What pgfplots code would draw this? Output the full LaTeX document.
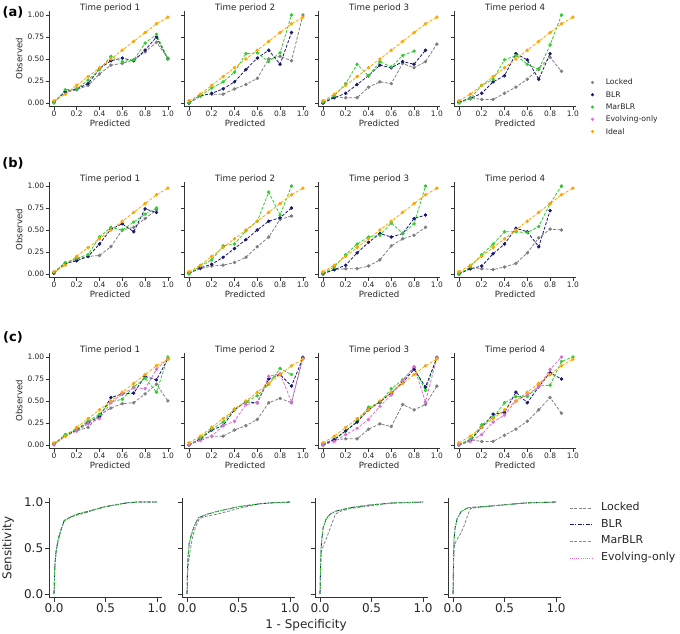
\documentclass[border=0pt]{standalone}
\usepackage{fontspec}
\setmainfont{DejaVu Sans}
\usepackage{pgfplots}
\usepackage{pgfplotstable}
\pgfplotsset{compat=1.18}

\definecolor{lockedc}{RGB}{128,128,128}
\definecolor{blrc}{RGB}{25,25,112}
\definecolor{marc}{RGB}{50,205,50}
\definecolor{evoc}{RGB}{218,112,214}
\definecolor{idealc}{RGB}{255,165,0}

\pgfplotstableread{
x y
0 0.025
0.1 0.1
0.2 0.2
0.3 0.3
0.4 0.4
0.5 0.5
0.6 0.6
0.7 0.7
0.8 0.8
0.9 0.9
1.0 0.975
}\ideal

\pgfplotsset{
  base/.style={scale only axis, anchor=south west, clip=false,
    axis x line*=bottom, axis y line*=left,
    axis line style={black!80, line width=0.6bp, -},
    tick align=outside, major tick length=3bp,
    major tick style={black!80, line width=0.6bp},
    tick label style={text=black!85},
    yticklabels={}},
  calib/.style={base, width=122.4bp, height=95.9bp,
    xmin=-0.044, xmax=1.03, ymin=-0.04, ymax=1.05,
    xtick={0,0.2,0.4,0.6,0.8,1}, xticklabels={0,0.2,0.4,0.6,0.8,1.0},
    ytick={0,0.25,0.5,0.75,1},
    xlabel={Predicted},
    tick label style={font=\fontsize{7.5bp}{9bp}\selectfont, inner sep=1.5bp},
    label style={font=\fontsize{8.6bp}{10bp}\selectfont, text=black!85},
    xlabel style={yshift=2bp},
    title style={font=\fontsize{8.7bp}{10bp}\selectfont, text=black!85, inner sep=0pt, yshift=-8bp}},
  roc/.style={base, width=113.3bp, height=99.8bp,
    xmin=-0.05, xmax=1.05, ymin=-0.04, ymax=1.045,
    xtick={0,0.5,1}, xticklabels={0.0,0.5,1.0}, ytick={0,0.5,1},
    major tick length=4bp,
    tick label style={font=\fontsize{12bp}{14bp}\selectfont, inner sep=1.5bp}},
  locked/.style={color=lockedc, line width=0.8bp, dash pattern=on 3bp off 1.6bp, mark=*, mark size=1.3bp, mark options={solid}},
  blr/.style={color=blrc, line width=0.8bp, dash pattern=on 3bp off 1.6bp, mark=*, mark size=1.3bp, mark options={solid}},
  mar/.style={color=marc, line width=0.8bp, dash pattern=on 3bp off 1.6bp, mark=*, mark size=1.3bp, mark options={solid}},
  evo/.style={color=evoc, line width=0.8bp, dash pattern=on 3bp off 1.6bp, mark=*, mark size=1.3bp, mark options={solid}},
  ideal/.style={color=idealc, line width=0.8bp, dash pattern=on 3bp off 1.6bp, mark=*, mark size=1.3bp, mark options={solid}},
  rlocked/.style={color=lockedc, line width=0.8bp, dash pattern=on 3bp off 1.6bp},
  rblr/.style={color=blrc, line width=0.8bp, dash pattern=on 4bp off 1.5bp on 1bp off 1.5bp},
  rmar/.style={color=marc, line width=0.8bp, dash pattern=on 3bp off 1.6bp},
  revo/.style={color=evoc, line width=0.9bp, dash pattern=on 1bp off 1.2bp},
}

\begin{document}
\begin{tikzpicture}
\useasboundingbox (0,0) rectangle (680bp,-634bp);

% ---------- row (a)
\node[font=\bfseries\fontsize{13bp}{15bp}\selectfont] at (13bp,-12bp) {(a)};
\begin{axis}[calib, at={(48.9bp,-106.5bp)}, title={Time period 1}, ylabel={Observed},
  yticklabels={0.00,0.25,0.50,0.75,1.00}]
\addplot[locked] coordinates {(0,0.01)(0.1,0.12)(0.2,0.15)(0.3,0.20)(0.4,0.33)(0.5,0.43)(0.6,0.45)(0.7,0.49)(0.8,0.58)(0.9,0.69)(1.0,0.51)};
\addplot[blr] coordinates {(0,0.01)(0.1,0.13)(0.2,0.16)(0.3,0.22)(0.4,0.39)(0.5,0.48)(0.6,0.51)(0.7,0.48)(0.8,0.60)(0.9,0.75)(1.0,0.50)};
\addplot[mar] coordinates {(0,0.0)(0.1,0.15)(0.2,0.16)(0.3,0.26)(0.4,0.38)(0.5,0.53)(0.6,0.47)(0.7,0.49)(0.8,0.68)(0.9,0.78)(1.0,0.50)};
\addplot[ideal] table {\ideal};
\end{axis}
\begin{axis}[calib, at={(183.9bp,-106.5bp)}, title={Time period 2}]
\addplot[locked] coordinates {(0,0.0)(0.1,0.09)(0.2,0.10)(0.3,0.10)(0.4,0.16)(0.5,0.21)(0.6,0.28)(0.7,0.50)(0.8,0.53)(0.9,0.48)(1.0,1.0)};
\addplot[blr] coordinates {(0,0.0)(0.1,0.08)(0.2,0.11)(0.3,0.16)(0.4,0.24)(0.5,0.38)(0.6,0.51)(0.7,0.60)(0.8,0.44)(0.9,0.80)};
\addplot[mar] coordinates {(0,0.0)(0.1,0.08)(0.2,0.17)(0.3,0.24)(0.4,0.35)(0.5,0.56)(0.6,0.57)(0.7,0.47)(0.8,0.57)(0.9,1.0)};
\addplot[ideal] table {\ideal};
\end{axis}
\begin{axis}[calib, at={(317.9bp,-106.5bp)}, title={Time period 3}]
\addplot[locked] coordinates {(0,0.0)(0.1,0.07)(0.2,0.06)(0.3,0.06)(0.4,0.18)(0.5,0.24)(0.6,0.22)(0.7,0.45)(0.8,0.40)(0.9,0.47)(1.0,0.67)};
\addplot[blr] coordinates {(0,0.0)(0.1,0.06)(0.2,0.11)(0.3,0.21)(0.4,0.31)(0.5,0.43)(0.6,0.40)(0.7,0.47)(0.8,0.44)(0.9,0.60)};
\addplot[mar] coordinates {(0,0.01)(0.1,0.08)(0.2,0.22)(0.3,0.44)(0.4,0.31)(0.5,0.47)(0.6,0.41)(0.7,0.54)(0.8,0.59)};
\addplot[ideal] table {\ideal};
\end{axis}
\begin{axis}[calib, at={(453.9bp,-106.5bp)}, title={Time period 4},
  legend style={at={(1.12,0.315)}, anchor=north west, draw=none, fill=none,
    font=\fontsize{7.7bp}{9bp}\selectfont, text=black!85, row sep=0.3bp, column sep=11bp, inner sep=0pt,
    nodes={inner sep=1bp, text height=0.75em, text depth=0.25em}},
  legend cell align=left,
  legend image code/.code={\draw[#1] plot coordinates {(4bp,0bp)};}]
\addlegendimage{only marks, mark=*, mark size=1.3bp, color=lockedc}\addlegendentry{Locked}
\addlegendimage{only marks, mark=*, mark size=1.3bp, color=blrc}\addlegendentry{BLR}
\addlegendimage{only marks, mark=*, mark size=1.3bp, color=marc}\addlegendentry{MarBLR}
\addlegendimage{only marks, mark=*, mark size=1.3bp, color=evoc}\addlegendentry{Evolving-only}
\addlegendimage{only marks, mark=*, mark size=1.3bp, color=idealc}\addlegendentry{Ideal}
\addplot[locked, forget plot] coordinates {(0,0.01)(0.1,0.06)(0.2,0.04)(0.3,0.04)(0.4,0.11)(0.5,0.18)(0.6,0.27)(0.7,0.39)(0.8,0.52)(0.9,0.36)};
\addplot[blr, forget plot] coordinates {(0,0.01)(0.1,0.05)(0.2,0.11)(0.3,0.24)(0.4,0.31)(0.5,0.56)(0.6,0.49)(0.7,0.27)(0.8,0.56)};
\addplot[mar, forget plot] coordinates {(0,0.0)(0.1,0.05)(0.2,0.20)(0.3,0.27)(0.4,0.49)(0.5,0.54)(0.6,0.44)(0.7,0.38)(0.8,0.66)(0.9,1.0)};
\addplot[ideal, forget plot] table {\ideal};
\end{axis}

% ---------- row (b)
\node[font=\bfseries\fontsize{13bp}{15bp}\selectfont] at (13bp,-163bp) {(b)};
\begin{axis}[calib, at={(48.9bp,-277.5bp)}, title={Time period 1}, ylabel={Observed},
  yticklabels={0.00,0.25,0.50,0.75,1.00}]
\addplot[locked] coordinates {(0,0.01)(0.1,0.12)(0.2,0.17)(0.3,0.20)(0.4,0.21)(0.5,0.31)(0.6,0.50)(0.7,0.53)(0.8,0.63)(0.9,0.73)};
\addplot[blr] coordinates {(0,0.01)(0.1,0.12)(0.2,0.15)(0.3,0.20)(0.4,0.34)(0.5,0.51)(0.6,0.57)(0.7,0.48)(0.8,0.74)(0.9,0.70)};
\addplot[mar] coordinates {(0,0.02)(0.1,0.13)(0.2,0.18)(0.3,0.22)(0.4,0.42)(0.5,0.53)(0.6,0.50)(0.7,0.59)(0.8,0.68)(0.9,0.75)};
\addplot[ideal] table {\ideal};
\end{axis}
\begin{axis}[calib, at={(183.9bp,-277.5bp)}, title={Time period 2}]
\addplot[locked] coordinates {(0,0.01)(0.1,0.06)(0.2,0.09)(0.3,0.10)(0.4,0.13)(0.5,0.19)(0.6,0.31)(0.7,0.42)(0.8,0.62)(0.9,0.66)};
\addplot[blr] coordinates {(0,0.01)(0.1,0.07)(0.2,0.11)(0.3,0.19)(0.4,0.29)(0.5,0.39)(0.6,0.50)(0.7,0.60)(0.8,0.64)(0.9,0.75)};
\addplot[mar] coordinates {(0,0.0)(0.1,0.09)(0.2,0.16)(0.3,0.32)(0.4,0.34)(0.5,0.49)(0.6,0.60)(0.7,0.93)(0.8,0.67)(0.9,1.0)};
\addplot[ideal] table {\ideal};
\end{axis}
\begin{axis}[calib, at={(317.9bp,-277.5bp)}, title={Time period 3}]
\addplot[locked] coordinates {(0,0.01)(0.1,0.05)(0.2,0.06)(0.3,0.06)(0.4,0.09)(0.5,0.16)(0.6,0.32)(0.7,0.40)(0.8,0.44)(0.9,0.53)};
\addplot[blr] coordinates {(0,0.0)(0.1,0.05)(0.2,0.10)(0.3,0.24)(0.4,0.36)(0.5,0.46)(0.6,0.42)(0.7,0.46)(0.8,0.63)(0.9,0.67)};
\addplot[mar] coordinates {(0,0.01)(0.1,0.08)(0.2,0.22)(0.3,0.34)(0.4,0.42)(0.5,0.44)(0.6,0.58)(0.7,0.46)(0.8,0.57)(0.9,1.0)};
\addplot[ideal] table {\ideal};
\end{axis}
\begin{axis}[calib, at={(453.9bp,-277.5bp)}, title={Time period 4}]
\addplot[locked] coordinates {(0,0.01)(0.1,0.06)(0.2,0.06)(0.3,0.05)(0.4,0.08)(0.5,0.12)(0.6,0.24)(0.7,0.41)(0.8,0.51)(0.9,0.50)};
\addplot[blr] coordinates {(0,0.0)(0.1,0.06)(0.2,0.09)(0.3,0.23)(0.4,0.34)(0.5,0.52)(0.6,0.48)(0.7,0.31)(0.8,0.72)};
\addplot[mar] coordinates {(0,0.0)(0.1,0.08)(0.2,0.22)(0.3,0.34)(0.4,0.48)(0.5,0.48)(0.6,0.47)(0.7,0.54)(0.8,0.80)(0.9,1.0)};
\addplot[ideal] table {\ideal};
\end{axis}

% ---------- row (c)
\node[font=\bfseries\fontsize{13bp}{15bp}\selectfont] at (13bp,-337bp) {(c)};
\begin{axis}[calib, at={(48.9bp,-448.5bp)}, title={Time period 1}, ylabel={Observed},
  yticklabels={0.00,0.25,0.50,0.75,1.00}]
\addplot[locked] coordinates {(0,0.01)(0.1,0.11)(0.2,0.16)(0.3,0.20)(0.4,0.34)(0.5,0.42)(0.6,0.47)(0.7,0.48)(0.8,0.58)(0.9,0.69)(1.0,0.50)};
\addplot[blr] coordinates {(0,0.01)(0.1,0.11)(0.2,0.17)(0.3,0.26)(0.4,0.32)(0.5,0.54)(0.6,0.58)(0.7,0.59)(0.8,0.78)(0.9,0.74)(1.0,0.98)};
\addplot[mar] coordinates {(0,0.01)(0.1,0.12)(0.2,0.18)(0.3,0.27)(0.4,0.35)(0.5,0.49)(0.6,0.52)(0.7,0.66)(0.8,0.76)(0.9,0.60)(1.0,1.0)};
\addplot[evo] coordinates {(0,0.0)(0.1,0.10)(0.2,0.16)(0.3,0.24)(0.4,0.30)(0.5,0.48)(0.6,0.58)(0.7,0.65)(0.8,0.64)(0.9,0.86)(1.0,0.98)};
\addplot[ideal] table {\ideal};
\end{axis}
\begin{axis}[calib, at={(183.9bp,-448.5bp)}, title={Time period 2}]
\addplot[locked] coordinates {(0,0.0)(0.1,0.07)(0.2,0.10)(0.3,0.10)(0.4,0.17)(0.5,0.22)(0.6,0.29)(0.7,0.48)(0.8,0.53)(0.9,0.48)(1.0,1.0)};
\addplot[blr] coordinates {(0,0.0)(0.1,0.07)(0.2,0.17)(0.3,0.22)(0.4,0.40)(0.5,0.49)(0.6,0.48)(0.7,0.75)(0.8,0.80)(0.9,0.67)(1.0,0.99)};
\addplot[mar] coordinates {(0,0.0)(0.1,0.08)(0.2,0.18)(0.3,0.26)(0.4,0.41)(0.5,0.49)(0.6,0.56)(0.7,0.69)(0.8,0.87)(0.9,0.80)};
\addplot[evo] coordinates {(0,0.0)(0.1,0.05)(0.2,0.10)(0.3,0.22)(0.4,0.27)(0.5,0.46)(0.6,0.48)(0.7,0.78)(0.8,0.81)(0.9,0.49)(1.0,0.98)};
\addplot[ideal] table {\ideal};
\end{axis}
\begin{axis}[calib, at={(317.9bp,-448.5bp)}, title={Time period 3}]
\addplot[locked] coordinates {(0,0.01)(0.1,0.06)(0.2,0.07)(0.3,0.07)(0.4,0.18)(0.5,0.24)(0.6,0.21)(0.7,0.46)(0.8,0.40)(0.9,0.46)(1.0,0.67)};
\addplot[mar] coordinates {(0,0.01)(0.1,0.07)(0.2,0.16)(0.3,0.27)(0.4,0.43)(0.5,0.48)(0.6,0.64)(0.7,0.74)(0.8,0.88)(0.9,0.62)(1.0,1.0)};
\addplot[blr] coordinates {(0,0.0)(0.1,0.06)(0.2,0.16)(0.3,0.26)(0.4,0.40)(0.5,0.49)(0.6,0.59)(0.7,0.71)(0.8,0.86)(0.9,0.66)(1.0,0.99)};
\addplot[evo] coordinates {(0,0.0)(0.1,0.04)(0.2,0.12)(0.3,0.19)(0.4,0.29)(0.5,0.44)(0.6,0.57)(0.7,0.73)(0.8,0.89)(0.9,0.49)(1.0,0.99)};
\addplot[ideal] table {\ideal};
\end{axis}
\begin{axis}[calib, at={(453.9bp,-448.5bp)}, title={Time period 4}]
\addplot[locked] coordinates {(0,0.01)(0.1,0.06)(0.2,0.04)(0.3,0.04)(0.4,0.11)(0.5,0.18)(0.6,0.27)(0.7,0.40)(0.8,0.54)(0.9,0.36)};
\addplot[blr] coordinates {(0,0.0)(0.1,0.05)(0.2,0.20)(0.3,0.35)(0.4,0.37)(0.5,0.60)(0.6,0.48)(0.7,0.66)(0.8,0.82)(0.9,0.75)};
\addplot[mar] coordinates {(0,0.0)(0.1,0.06)(0.2,0.23)(0.3,0.31)(0.4,0.48)(0.5,0.55)(0.6,0.55)(0.7,0.67)(0.8,0.68)(0.9,0.95)(1.0,1.0)};
\addplot[evo] coordinates {(0,0.0)(0.1,0.04)(0.2,0.12)(0.3,0.26)(0.4,0.34)(0.5,0.50)(0.6,0.57)(0.7,0.66)(0.8,0.86)(0.9,1.0)};
\addplot[ideal] table {\ideal};
\end{axis}

% ---------- ROC row
\begin{axis}[roc, at={(48.9bp,-597.7bp)}, yticklabels={0.0,0.5,1.0}]
\addplot[rlocked] coordinates {(0,0)(0.005,0.2)(0.01,0.33)(0.02,0.45)(0.04,0.58)(0.07,0.70)(0.1,0.80)(0.15,0.83)(0.2,0.85)(0.3,0.88)(0.4,0.92)(0.5,0.95)(0.6,0.97)(0.7,0.99)(0.8,1.0)(1,1)};
\addplot[rblr] coordinates {(0,0)(0.005,0.22)(0.01,0.35)(0.02,0.47)(0.04,0.60)(0.07,0.71)(0.1,0.80)(0.15,0.83)(0.2,0.86)(0.3,0.89)(0.4,0.92)(0.5,0.95)(0.6,0.97)(0.7,0.99)(0.8,1.0)(1,1)};
\addplot[rmar] coordinates {(0,0)(0.005,0.21)(0.01,0.34)(0.02,0.46)(0.04,0.59)(0.07,0.71)(0.1,0.80)(0.15,0.83)(0.2,0.86)(0.3,0.89)(0.4,0.92)(0.5,0.95)(0.6,0.97)(0.7,0.99)(0.8,1.0)(1,1)};
\end{axis}
\begin{axis}[roc, at={(181.9bp,-597.7bp)}]
\addplot[rlocked] coordinates {(0,0)(0.005,0.2)(0.01,0.3)(0.03,0.47)(0.05,0.6)(0.08,0.72)(0.12,0.82)(0.2,0.85)(0.3,0.87)(0.5,0.93)(0.7,0.98)(0.8,0.99)(1,1)};
\addplot[rblr] coordinates {(0,0)(0.005,0.3)(0.01,0.42)(0.02,0.55)(0.04,0.64)(0.07,0.74)(0.11,0.83)(0.2,0.87)(0.3,0.90)(0.5,0.95)(0.7,0.98)(0.8,0.99)(1,1)};
\addplot[rmar] coordinates {(0,0)(0.005,0.3)(0.01,0.41)(0.02,0.54)(0.04,0.63)(0.07,0.74)(0.11,0.83)(0.2,0.87)(0.3,0.90)(0.5,0.95)(0.7,0.98)(0.8,0.99)(1,1)};
\end{axis}
\begin{axis}[roc, at={(314.9bp,-597.7bp)}]
\addplot[rlocked] coordinates {(0,0)(0.005,0.25)(0.01,0.45)(0.03,0.52)(0.06,0.60)(0.1,0.72)(0.15,0.87)(0.2,0.90)(0.3,0.93)(0.5,0.96)(0.7,0.99)(1,1)};
\addplot[rblr] coordinates {(0,0)(0.005,0.3)(0.01,0.5)(0.02,0.62)(0.03,0.72)(0.06,0.82)(0.1,0.87)(0.15,0.90)(0.3,0.94)(0.5,0.97)(0.7,0.99)(1,1)};
\addplot[rmar] coordinates {(0,0)(0.005,0.3)(0.01,0.5)(0.02,0.63)(0.03,0.72)(0.06,0.82)(0.1,0.87)(0.15,0.90)(0.3,0.94)(0.5,0.97)(0.7,0.99)(1,1)};
\end{axis}
\begin{axis}[roc, at={(447.9bp,-597.7bp)},
  legend style={at={(1.069,0.96)}, anchor=north west, draw=none, fill=none,
    font=\fontsize{11bp}{13bp}\selectfont, text=black!85, row sep=4.7bp, column sep=7bp, inner sep=0pt,
    nodes={inner sep=1bp, text height=0.75em, text depth=0.25em}},
  legend cell align=left,
  legend image code/.code={\draw[#1] (0bp,0bp) -- (23bp,0bp);}]
\addlegendimage{rlocked}\addlegendentry{Locked}
\addlegendimage{rblr}\addlegendentry{BLR}
\addlegendimage{rmar}\addlegendentry{MarBLR}
\addlegendimage{revo}\addlegendentry{Evolving-only}
\addplot[rlocked, forget plot] coordinates {(0,0)(0.005,0.3)(0.01,0.5)(0.03,0.58)(0.06,0.63)(0.1,0.72)(0.15,0.88)(0.17,0.93)(0.3,0.95)(0.5,0.97)(0.7,0.99)(1,1)};
\addplot[rblr, forget plot] coordinates {(0,0)(0.005,0.4)(0.01,0.6)(0.02,0.72)(0.04,0.82)(0.08,0.90)(0.15,0.94)(0.3,0.95)(0.5,0.97)(0.7,0.99)(1,1)};
\addplot[rmar, forget plot] coordinates {(0,0)(0.005,0.4)(0.01,0.6)(0.02,0.72)(0.04,0.82)(0.08,0.90)(0.15,0.94)(0.3,0.95)(0.5,0.97)(0.7,0.99)(1,1)};
\end{axis}

\node[font=\fontsize{12bp}{14bp}\selectfont, text=black!85, rotate=90] at (8bp,-548bp) {Sensitivity};
\node[font=\fontsize{12bp}{14bp}\selectfont, text=black!85] at (306bp,-625bp) {1 - Specificity};
\end{tikzpicture}
\end{document}
